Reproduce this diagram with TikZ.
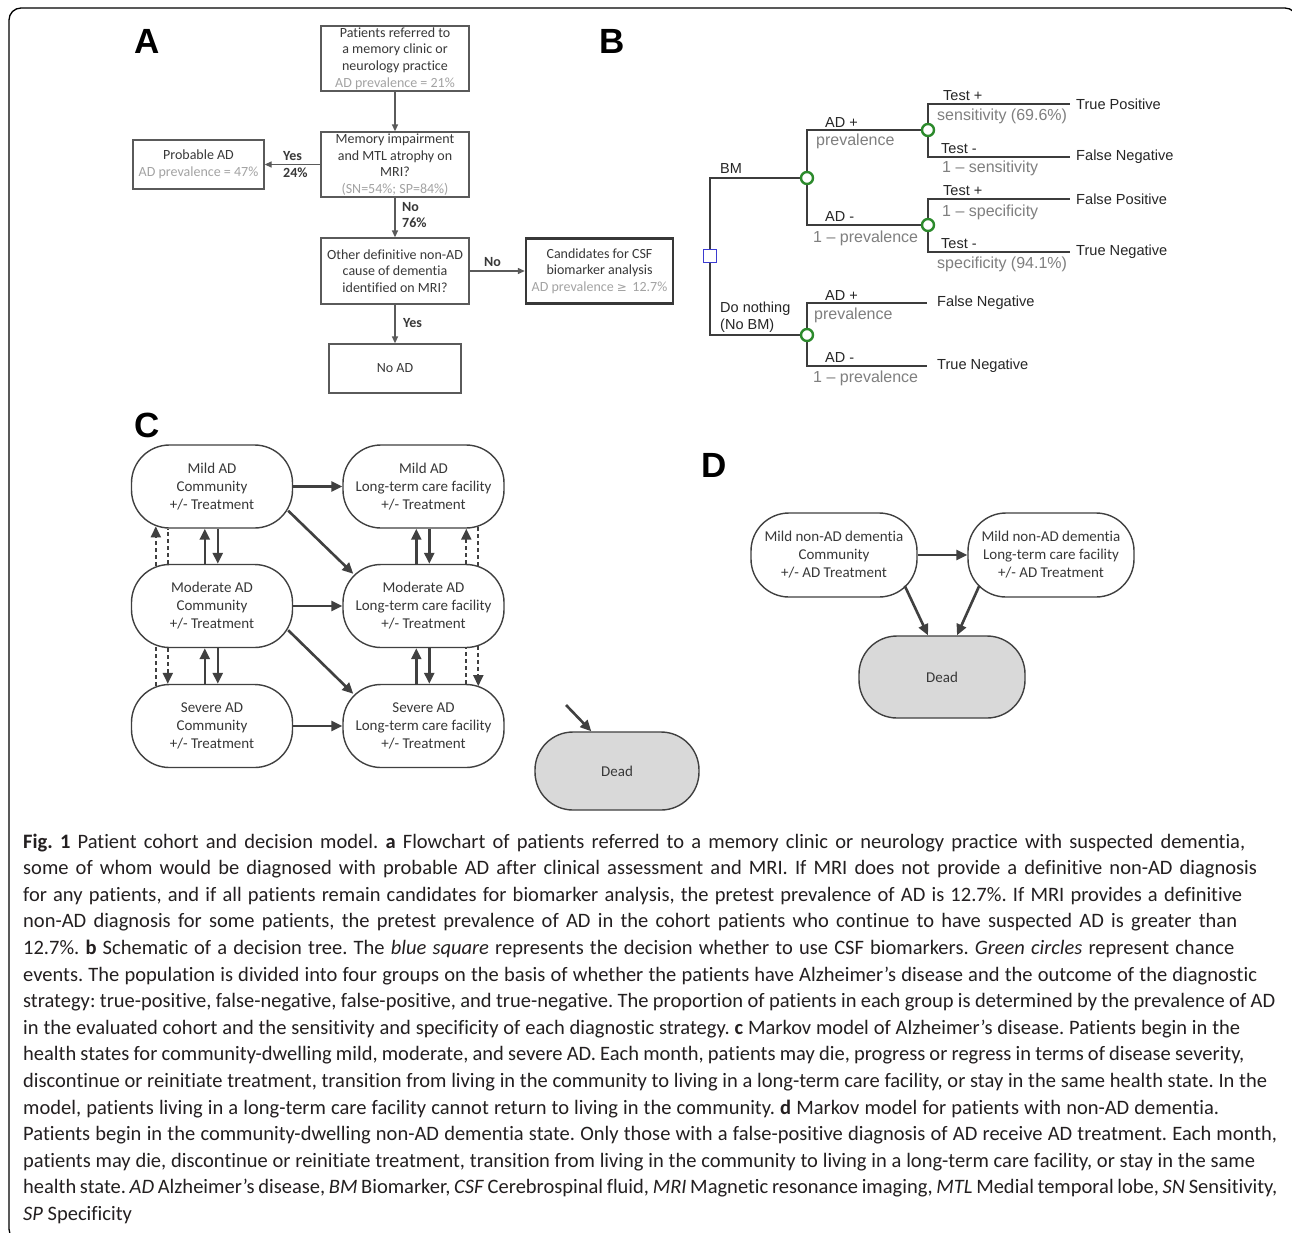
\documentclass[tikz,border=0pt]{standalone}
\usepackage{fontspec}
\setmainfont{Carlito}[Ligatures={TeX,NoCommon}]
\newfontfamily\arialf{Liberation Sans}
\newfontfamily\symf{DejaVu Sans}
\usetikzlibrary{arrows.meta,calc}
\pgfdeclarelayer{background}
\pgfsetlayers{background,main}
\definecolor{atext}{HTML}{383838}
\definecolor{alight}{HTML}{A3A3A3}
\definecolor{aline}{HTML}{5A5A5A}
\definecolor{blinec}{HTML}{3C3C3C}
\definecolor{bgray}{HTML}{7F7F7F}
\definecolor{chgreen}{HTML}{2C8A2C}
\definecolor{dcblue}{HTML}{3B3BD0}
\definecolor{clinec}{HTML}{404040}
\definecolor{deadfill}{HTML}{D9D9D9}
\definecolor{captext}{HTML}{231F20}
\tikzset{
 abox/.style={draw=aline, line width=1.3pt, fill=white, text=atext, align=center, inner sep=0pt, font=\fontsize{14}{16.7}\selectfont},
 aarrow/.style={draw=aline, line width=1.3pt, -{Triangle[length=7pt,width=6pt]}},
 alab/.style={font=\bfseries\fontsize{14}{16.7}\selectfont, text=atext, inner sep=0pt, anchor=west},
 plabel/.style={font=\arialf\bfseries\fontsize{35}{35}\selectfont, inner sep=0pt, text=black},
 bln/.style={draw=blinec, line width=2pt},
 chance/.style={circle, draw=chgreen, line width=2.4pt, fill=white, minimum size=12pt, inner sep=0pt},
 decis/.style={rectangle, draw=dcblue, line width=1.5pt, fill=white, minimum size=13pt, inner sep=0pt},
 bk/.style={font=\arialf\fontsize{14.5}{16}\selectfont, text=black!85, inner sep=0pt, anchor=base west},
 bg/.style={font=\arialf\fontsize{16}{18}\selectfont, text=bgray, inner sep=0pt, anchor=base west},
 bout/.style={font=\arialf\fontsize{14.6}{16}\selectfont, text=black!85, inner ysep=0pt, anchor=west},
 cnode/.style={draw=clinec, line width=1.4pt, fill=white, rounded corners=38pt, minimum width=161pt, minimum height=83pt, align=center, inner sep=0pt, text=atext, font=\fontsize{15}{18}\selectfont},
 deadnode/.style={cnode, fill=deadfill},
 carr/.style={draw=clinec, line width=2.6pt, -{Triangle[length=11pt,width=10pt]}},
 cdash/.style={draw=clinec, line width=2pt, dash pattern=on 4pt off 3pt},
 cdarr/.style={cdash, -{Triangle[length=11pt,width=10pt]}},
 capl/.style={anchor=base west, inner sep=0pt, font=\fontsize{20.5}{26}\selectfont\frenchspacing, text=captext},
}
\begin{document}
\begin{tikzpicture}[x=1pt,y=-1pt]
\useasboundingbox (0,0) rectangle (1292,1232);
\clip (0,0) rectangle (1292,1232);
\begin{pgfonlayer}{background}
\fill[white] (0,0) rectangle (1292,1232);
\end{pgfonlayer}
\draw[line width=1.3pt, rounded corners=12pt] (9,8) rectangle (1297,1241);

% ---------------- Panel A ----------------
\node[plabel] (lA) at (147,41) {A};
\node[abox, minimum width=148pt, minimum height=65pt] (a1) at (395,58.5) {Patients referred to\\a memory clinic or\\neurology practice\\\textcolor{alight}{AD prevalence = 21\%}};
\node[abox, minimum width=148pt, minimum height=65pt] (a2) at (395,164.5) {Memory impairment\\and MTL atrophy on\\MRI?\\\textcolor{alight}{(SN=54\%; SP=84\%)}};
\node[abox, minimum width=131pt, minimum height=49pt] (ap) at (198.5,164.5) {Probable AD\\\textcolor{alight}{AD prevalence = 47\%}};
\node[abox, minimum width=148pt, minimum height=66pt] (a3) at (395,271) {Other definitive non-AD\\cause of dementia\\identified on MRI?};
\node[abox, line width=2.4pt, draw=atext, minimum width=147pt, minimum height=65pt] (ac) at (599.5,271) {Candidates for CSF\\biomarker analysis\\\textcolor{alight}{AD prevalence {\symf\fontsize{12}{14}\selectfont ≥}\, 12.7\%}};
\node[abox, minimum width=132pt, minimum height=49pt] (an) at (395,368.5) {No AD};
\draw[aarrow] (a1) -- (a2);
\draw[aarrow] (a2) -- (ap);
\draw[aarrow] (a2) -- (a3);
\draw[aarrow] (a3) -- (ac);
\draw[aarrow] (a3) -- (an);
\node[alab] (ly1) at (283,156) {Yes};
\node[alab] (ly2) at (283,173) {24\%};
\node[alab] (ln1) at (402,207) {No};
\node[alab] (ln2) at (402,223) {76\%};
\node[alab] (ln3) at (484,262) {No};
\node[alab] (ly3) at (403,323) {Yes};

% ---------------- Panel B ----------------
\node[plabel] (lB) at (612,41) {B};
\node[decis] (sq) at (710,256) {};
\node[chance] (c1) at (807,178) {};
\node[chance] (c2) at (928,130) {};
\node[chance] (c3) at (928,225) {};
\node[chance] (c4) at (807,335) {};
\node[bout, inner xsep=6pt] (o1) at (1070,104) {True Positive};
\node[bout, inner xsep=6pt] (o2) at (1070,157) {False Negative};
\node[bout, inner xsep=6pt] (o3) at (1070,199) {False Positive};
\node[bout, inner xsep=6pt] (o4) at (1070,252) {True Negative};
\node[bout, inner xsep=10pt] (o5) at (927,303) {False Negative};
\node[bout, inner xsep=10pt] (o6) at (927,366) {True Negative};
\begin{pgfonlayer}{background}
\draw[bln] (sq.center) |- (c1.center);
\draw[bln] (sq.center) |- (c4.center);
\draw[bln] (c1.center) |- (c2.center);
\draw[bln] (c1.center) |- (c3.center);
\draw[bln] (c2.center) |- (o1.west);
\draw[bln] (c2.center) |- (o2.west);
\draw[bln] (c3.center) |- (o3.west);
\draw[bln] (c3.center) |- (o4.west);
\draw[bln] (c4.center) |- (o5.west);
\draw[bln] (c4.center) |- (o6.west);
\end{pgfonlayer}
\node[bk] (tbm) at (720,173) {BM};
\node[bk] (tadp1) at (825,127) {AD +};
\node[bg] (tpr1) at (816,145) {prevalence};
\node[bk] (tadm1) at (825,221) {AD -};
\node[bg] (tpr2) at (813,242) {1 – prevalence};
\node[bk] (tt1) at (943,100) {Test +};
\node[bg] (ts1) at (937,120) {sensitivity (69.6\%)};
\node[bk] (tt2) at (941,153) {Test -};
\node[bg] (ts2) at (942,172) {1 – sensitivity};
\node[bk] (tt3) at (943,195) {Test +};
\node[bg] (ts3) at (942,216) {1 – specificity};
\node[bk] (tt4) at (941,248) {Test -};
\node[bg] (ts4) at (937,268) {specificity (94.1\%)};
\node[bk] (tdn1) at (720,312) {Do nothing};
\node[bk] (tdn2) at (720,329) {(No BM)};
\node[bk] (tadp2) at (825,300) {AD +};
\node[bg] (tpr3) at (814,319) {prevalence};
\node[bk] (tadm2) at (825,362) {AD -};
\node[bg] (tpr4) at (813,382) {1 – prevalence};

% ---------------- Panel C ----------------
\node[plabel] (lC) at (147,425) {C};
\node[cnode] (c11) at (212,486.5) {Mild AD\\Community\\+/- Treatment};
\node[cnode] (c12) at (423.5,486.5) {Mild AD\\Long-term care facility\\+/- Treatment};
\node[cnode] (c21) at (212,606) {Moderate AD\\Community\\+/- Treatment};
\node[cnode] (c22) at (423.5,606) {Moderate AD\\Long-term care facility\\+/- Treatment};
\node[cnode] (c31) at (212,726) {Severe AD\\Community\\+/- Treatment};
\node[cnode] (c32) at (423.5,726) {Severe AD\\Long-term care facility\\+/- Treatment};
\node[deadnode, minimum width=164pt, minimum height=78pt] (cdd) at (617,771) {Dead};
\draw[carr] (c11) -- (c12);
\draw[carr] (c21) -- (c22);
\draw[carr] (c31) -- (c32);
\draw[carr] ($(c11.south east)+(-5,-18)$) -- ($(c22.north west)+(11,10)$);
\draw[carr] ($(c21.south east)+(-5,-18)$) -- ($(c32.north west)+(11,10)$);
% left column, rows 1-2
\draw[cdarr] ($(c21.north west)+(25,2.3)$) -- ($(c11.south west)+(25,-2.3)$);
\draw[cdash] ($(c21.north west)+(37,0)$) -- ($(c11.south west)+(37,0)$);
\draw[carr] ($(c21.north west)+(74,0)$) -- ($(c11.south west)+(74,0)$);
\draw[carr] ($(c11.south west)+(87,0)$) -- ($(c21.north west)+(87,0)$);
% left column, rows 2-3
\draw[cdash] ($(c31.north west)+(25,2.3)$) -- ($(c21.south west)+(25,-2.3)$);
\draw[cdarr] ($(c21.south west)+(37,0)$) -- ($(c31.north west)+(37,0)$);
\draw[carr] ($(c31.north west)+(74,0)$) -- ($(c21.south west)+(74,0)$);
\draw[carr] ($(c21.south west)+(87,0)$) -- ($(c31.north west)+(87,0)$);
% right column, rows 1-2
\draw[carr] ($(c22.north west)+(74,0)$) -- ($(c12.south west)+(74,0)$);
\draw[carr] ($(c12.south west)+(87,0)$) -- ($(c22.north west)+(87,0)$);
\draw[cdarr] ($(c22.north west)+(124,0)$) -- ($(c12.south west)+(124,0)$);
\draw[cdash] ($(c22.north west)+(136,2.3)$) -- ($(c12.south west)+(136,-2.3)$);
% right column, rows 2-3
\draw[carr] ($(c32.north west)+(74,0)$) -- ($(c22.south west)+(74,0)$);
\draw[carr] ($(c22.south west)+(87,0)$) -- ($(c32.north west)+(87,0)$);
\draw[cdash] ($(c32.north west)+(124,0)$) -- ($(c22.south west)+(124,0)$);
\draw[cdarr] ($(c22.south west)+(136,-2.3)$) -- ($(c32.north west)+(136,2.3)$);
\coordinate (cdin) at (566,705);
\draw[carr] (cdin) -- ($(cdd.north west)+(57,0)$);

% ---------------- Panel D ----------------
\node[plabel] (lD) at (714,465) {D};
\node[cnode, minimum width=166pt, minimum height=84pt] (d1) at (834,555) {Mild non-AD dementia\\Community\\+/- AD Treatment};
\node[cnode, minimum width=166pt, minimum height=84pt] (d2) at (1051,555) {Mild non-AD dementia\\Long-term care facility\\+/- AD Treatment};
\node[deadnode, minimum width=166pt, minimum height=82pt] (dd) at (942,677) {Dead};
\draw[carr] (d1) -- (d2);
\draw[carr] ($(d1.south east)+(-13,-12)$) -- ($(dd.north)+(-14,0)$);
\draw[carr] ($(d2.south west)+(12,-12)$) -- ($(dd.north)+(15,0)$);

% ---------------- Caption ----------------
\node[capl] (l1) at (23,848) {\makebox[1222pt][s]{\textbf{Fig. 1} Patient cohort and decision model. \textbf{a} Flowchart of patients referred to a memory clinic or neurology practice with suspected dementia,}};
\node[capl] (l2) at (23,874.6) {\makebox[1234pt][s]{some of whom would be diagnosed with probable AD after clinical assessment and MRI. If MRI does not provide a definitive non-AD diagnosis}};
\node[capl] (l3) at (23,901.2) {\makebox[1219pt][s]{for any patients, and if all patients remain candidates for biomarker analysis, the pretest prevalence of AD is 12.7\%. If MRI provides a definitive}};
\node[capl] (l4) at (23,927.8) {\makebox[1214pt][s]{non-AD diagnosis for some patients, the pretest prevalence of AD in the cohort patients who continue to have suspected AD is greater than}};
\node[capl] (l5) at (23,954.4) {\makebox[1211pt][s]{12.7\%. \textbf{b} Schematic of a decision tree. The \textit{blue square} represents the decision whether to use CSF biomarkers. \textit{Green circles} represent chance}};
\node[capl] (l6) at (23,981) {\makebox[1234pt][s]{events. The population is divided into four groups on the basis of whether the patients have Alzheimer’s disease and the outcome of the diagnostic}};
\node[capl] (l7) at (23,1007.6) {\makebox[1252pt][s]{strategy: true-positive, false-negative, false-positive, and true-negative. The proportion of patients in each group is determined by the prevalence of AD}};
\node[capl] (l8) at (23,1034.2) {\makebox[1217pt][s]{in the evaluated cohort and the sensitivity and specificity of each diagnostic strategy. \textbf{c} Markov model of Alzheimer’s disease. Patients begin in the}};
\node[capl] (l9) at (23,1060.8) {\makebox[1221pt][s]{health states for community-dwelling mild, moderate, and severe AD. Each month, patients may die, progress or regress in terms of disease severity,}};
\node[capl] (l10) at (23,1087.4) {\makebox[1244pt][s]{discontinue or reinitiate treatment, transition from living in the community to living in a long-term care facility, or stay in the same health state. In the}};
\node[capl] (l11) at (23,1114) {\makebox[1196pt][s]{model, patients living in a long-term care facility cannot return to living in the community. \textbf{d} Markov model for patients with non-AD dementia.}};
\node[capl] (l12) at (23,1140.6) {\makebox[1254pt][s]{Patients begin in the community-dwelling non-AD dementia state. Only those with a false-positive diagnosis of AD receive AD treatment. Each month,}};
\node[capl] (l13) at (23,1167.2) {\makebox[1232pt][s]{patients may die, discontinue or reinitiate treatment, transition from living in the community to living in a long-term care facility, or stay in the same}};
\node[capl] (l14) at (23,1193.8) {\makebox[1254pt][s]{health state. \textit{AD} Alzheimer’s disease, \textit{BM} Biomarker, \textit{CSF} Cerebrospinal fluid, \textit{MRI} Magnetic resonance imaging, \textit{MTL} Medial temporal lobe, \textit{SN} Sensitivity,}};
\node[capl] (l15) at (23,1220.4) {\textit{SP} Specificity};
\end{tikzpicture}
\end{document}
